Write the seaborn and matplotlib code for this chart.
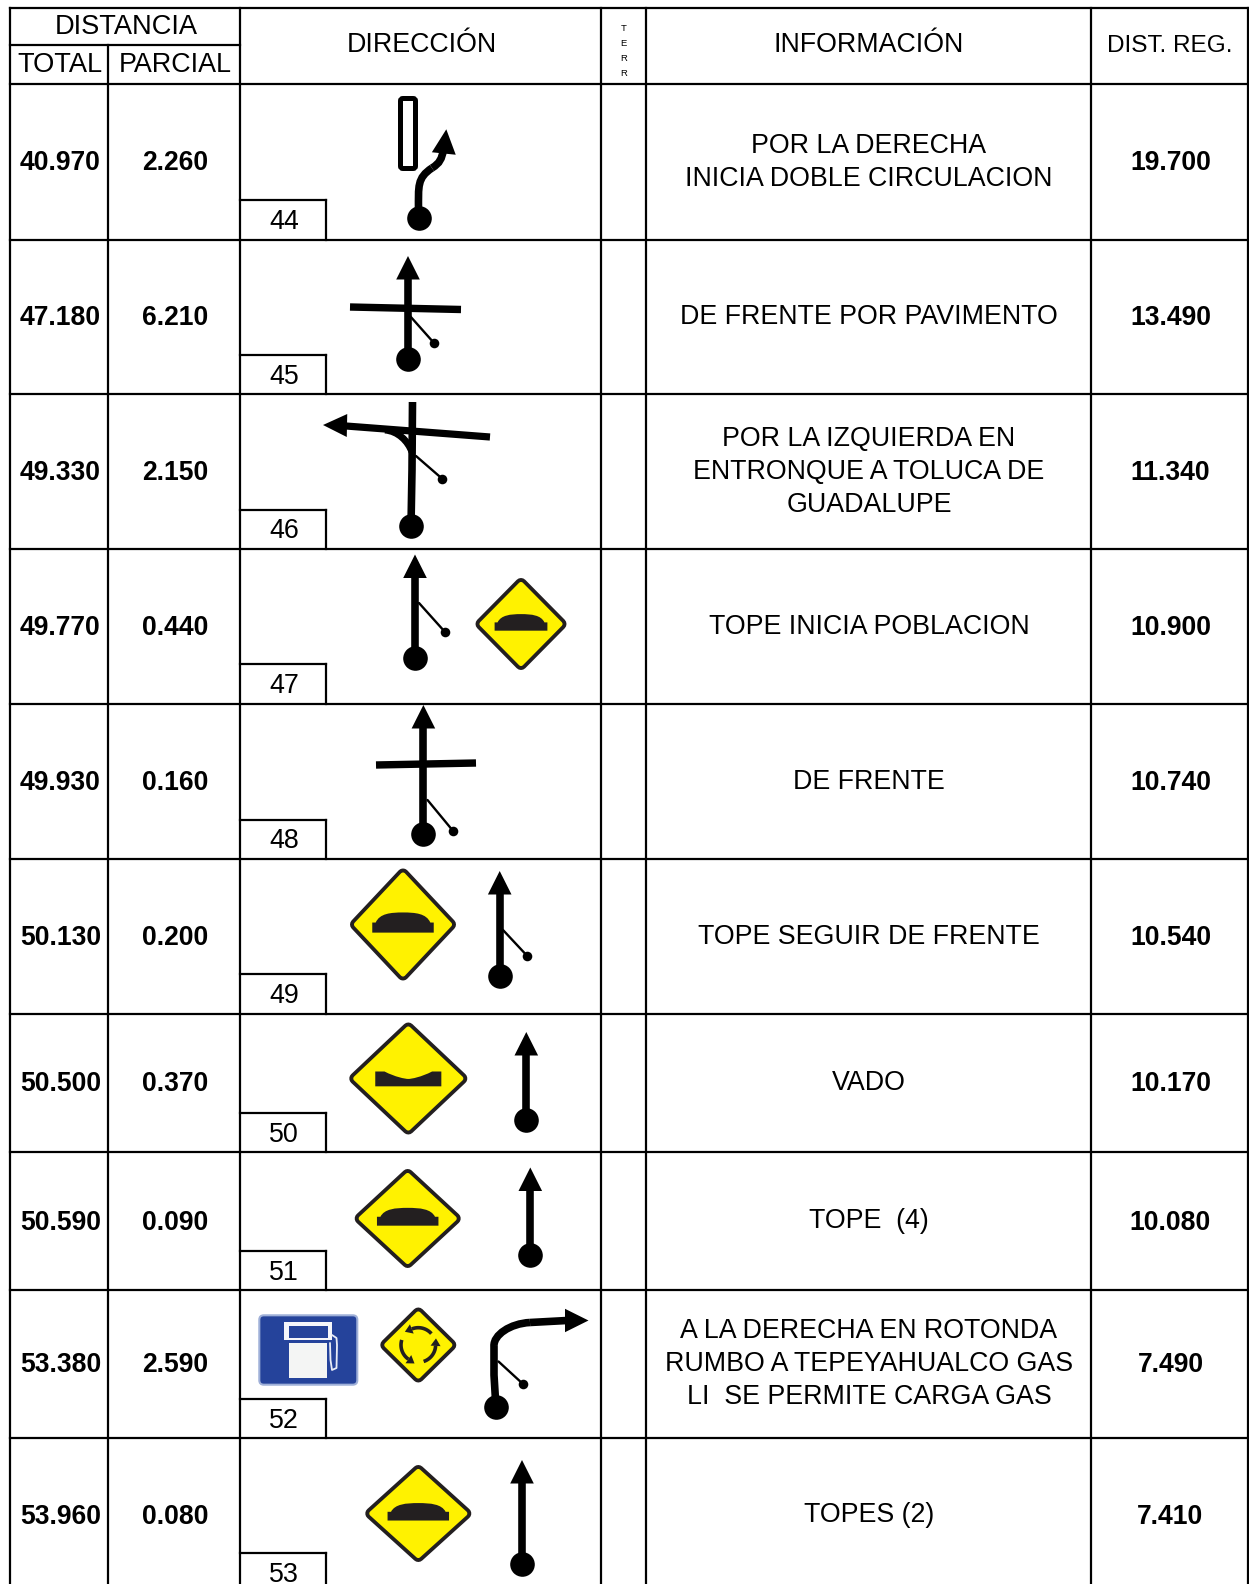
import numpy as np
import matplotlib
matplotlib.use("Agg")
import matplotlib.pyplot as plt
from matplotlib.path import Path
from matplotlib.patches import PathPatch, Polygon, FancyBboxPatch, Rectangle
import seaborn as sns

# ---- table content
total = ["40.970", "47.180", "49.330", "49.770", "49.930", "50.130", "50.500", "50.590", "53.380", "53.960"]
parcial = ["2.260", "6.210", "2.150", "0.440", "0.160", "0.200", "0.370", "0.090", "2.590", "0.080"]
dist_reg = ["19.700", "13.490", "11.340", "10.900", "10.740", "10.540", "10.170", "10.080", "7.490", "7.410"]
box_no = ["44", "45", "46", "47", "48", "49", "50", "51", "52", "53"]
info = [
    ["POR LA DERECHA", "INICIA DOBLE CIRCULACION"],
    ["DE FRENTE POR PAVIMENTO"],
    ["POR LA IZQUIERDA EN", "ENTRONQUE A TOLUCA DE", "GUADALUPE"],
    ["TOPE INICIA POBLACION"],
    ["DE FRENTE"],
    ["TOPE SEGUIR DE FRENTE"],
    ["VADO"],
    ["TOPE  (4)"],
    ["A LA DERECHA EN ROTONDA", "RUMBO A TEPEYAHUALCO GAS", "LI  SE PERMITE CARGA GAS"],
    ["TOPES (2)"],
]

# ---- layout (pixels of the page)
W, H = 1249, 1584
col_x = [9.8, 108.3, 240.3, 601, 646, 1091, 1248]
row_y = [84, 239.5, 394, 549, 703.5, 859, 1013.5, 1152, 1290, 1438, 1592]
LW = 1.6
FS = 19.3
FS_B = 19.1
TXT = "#000000"

sns.set_theme(style="white")
plt.rcParams["font.family"] = ["Liberation Sans", "DejaVu Sans"]
fig = plt.figure(figsize=(W / 100, H / 100), dpi=100)
ax = fig.add_axes([0, 0, 1, 1])
ax.set_xlim(0, W)
ax.set_ylim(H, 0)
ax.axis("off")
PX = 0.72
INK = "#000000"
DARK = "#231f20"
YELLOW = "#fff200"
SHAFT = 7.6


def rule(x0, y0, x1, y1, lw=LW):
    ax.plot([x0, x1], [y0, y1], color=INK, lw=lw, solid_capstyle="projecting", zorder=5)


def stroke(pts, w=SHAFT, curve=False, cap="butt"):
    if curve:
        codes = [Path.MOVETO] + [Path.CURVE4] * (len(pts) - 1)
        ax.add_patch(PathPatch(Path(pts, codes), fc="none", ec=INK, lw=w * PX, capstyle=cap, zorder=3))
    else:
        xs, ys = zip(*pts)
        ax.plot(xs, ys, color=INK, lw=w * PX, solid_capstyle=cap, solid_joinstyle="round", zorder=3)


def head(tip, base, half=11.8):
    t, b = np.array(tip, float), np.array(base, float)
    d = t - b
    n = np.array([-d[1], d[0]]) / np.hypot(*d) * half
    ax.add_patch(Polygon([t, b + n, b - n], closed=True, fc=INK, ec="none", zorder=3))


dots_x, dots_y, small_x, small_y = [], [], [], []


def start(x, y):
    dots_x.append(x)
    dots_y.append(y)


def branch(x0, y0, x1, y1):
    ax.plot([x0, x1], [y0, y1], color=INK, lw=1.7, zorder=3)
    small_x.append(x1)
    small_y.append(y1)


def up_arrow(x, tip, dot):
    head((x, tip), (x, tip + 23.5))
    stroke([(x, tip + 22), (x, dot)])
    start(x, dot)


def diamond(cx, cy, hw, hh):
    a = 6.0
    t = 3.8
    b = 2.5
    sq = 2 ** 0.5
    def poly(rx, ry):
        return [(cx, cy - ry), (cx + rx, cy), (cx, cy + ry), (cx - rx, cy)]
    ax.add_patch(Polygon(poly(hw - a, hh - a), closed=True, fc=DARK, ec=DARK, lw=2 * a * PX, joinstyle="round", zorder=2))
    rx = hw - a + (a - t - b) * sq
    ry = hh - a + (a - t - b) * sq
    ax.add_patch(Polygon(poly(rx, ry), closed=True, fc=YELLOW, ec=YELLOW, lw=2 * b * PX, joinstyle="round", zorder=2.1))


def bump(cx, cy, hw, hh):
    w = 0.58 * hw
    top = cy - 0.215 * hh
    mid = cy - 0.035 * hh
    bot = cy + 0.145 * hh
    sh = 0.065 * hw
    verts = [(cx - w, bot), (cx - w, mid), (cx - w + sh, mid),
             (cx - w * 0.76, top + 1), (cx - w * 0.4, top), (cx, top),
             (cx + w * 0.4, top), (cx + w * 0.76, top + 1), (cx + w - sh, mid),
             (cx + w, mid), (cx + w, bot), (cx - w, bot)]
    codes = [Path.MOVETO, Path.LINETO, Path.LINETO,
             Path.CURVE4, Path.CURVE4, Path.CURVE4,
             Path.CURVE4, Path.CURVE4, Path.CURVE4,
             Path.LINETO, Path.LINETO, Path.CLOSEPOLY]
    ax.add_patch(PathPatch(Path(verts, codes), fc=DARK, ec="none", zorder=2.2))


def dip(cx, cy, hw, hh):
    w = 0.56 * hw
    bot = cy + 0.14 * hh
    edge = cy - 0.125 * hh
    low = cy - 0.01 * hh
    verts = [(cx - w, bot), (cx - w, edge), (cx - w * 0.72, edge),
             (cx - w * 0.4, low - 1), (cx - w * 0.1, low + 1), (cx, low + 1),
             (cx + w * 0.1, low + 1), (cx + w * 0.4, low - 1), (cx + w * 0.72, edge),
             (cx + w, edge), (cx + w, bot), (cx - w, bot)]
    codes = [Path.MOVETO, Path.LINETO, Path.LINETO,
             Path.CURVE4, Path.CURVE4, Path.CURVE4,
             Path.CURVE4, Path.CURVE4, Path.CURVE4,
             Path.LINETO, Path.LINETO, Path.CLOSEPOLY]
    ax.add_patch(PathPatch(Path(verts, codes), fc=DARK, ec="none", zorder=2.2))


# ---- grid
for x in col_x:
    if x == col_x[1]:
        rule(x, 44.5, x, H + 10)
    else:
        rule(x, 7.5, x, H + 10)
rule(col_x[0], 7.5, col_x[-1], 7.5)
rule(col_x[0], 44.5, col_x[2], 44.5)
for y in row_y[:-1]:
    rule(col_x[0], y, col_x[-1], y)

# ---- header
def head_text(x, y, s, fs=FS):
    ax.text(x, y, s, ha="center", va="center", fontsize=fs, color=TXT, zorder=6)


head_text(126, 27, "DISTANCIA", fs=19.6)
head_text(60, 65.5, "TOTAL", fs=19.6)
head_text(175, 65.5, "PARCIAL", fs=19.4)
head_text(421.5, 45.5, "DIRECCIÓN", fs=19.3)
head_text(869, 45.5, "INFORMACIÓN", fs=19.3)
head_text(1170, 45.5, "DIST. REG.", fs=17.6)
for ch, y in zip("TERR", [28.5, 43.5, 58.6, 73.8]):
    head_text(623.5, y, ch, fs=6.8)

# ---- rows
for i in range(len(total)):
    cy = (row_y[i] + row_y[i + 1]) / 2
    for xc, vals in ((60.5, total), (175, parcial), (1170.5, dist_reg)):
        ax.text(xc, cy + 1.5, vals[i], ha="center", va="center", fontsize=FS_B, fontweight="bold", color=TXT, zorder=6)
    n = len(info[i])
    for k, line in enumerate(info[i]):
        ax.text(869, cy + 0.3 + (k - (n - 1) / 2) * 33, line, ha="center", va="center", fontsize=FS, color=TXT, zorder=6)
    by = row_y[i + 1]
    rule(col_x[2], by - 39.5, 326, by - 39.5)
    rule(326, by - 39.5, 326, by)
    ax.text(284, by - 17.5, box_no[i], ha="center", va="center", fontsize=19.4, color=TXT, zorder=6)

# ---- row 44: island + shifted arrow
ax.add_patch(FancyBboxPatch((400.5, 98.5), 15, 70, boxstyle="round,pad=0,rounding_size=2.5",
                            fc="white", ec=INK, lw=5 * PX, zorder=3))
stroke([(418.5, 210), (418.5, 186), (417, 178), (432, 168)], curve=True)
stroke([(432, 168), (440, 163), (441.5, 159), (443.5, 150)], curve=True)
head((446.3, 129.3), (443.8, 153.5), half=12)
start(419, 218.3)

# ---- row 45
up_arrow(408, 256, 359)
stroke([(350, 307), (461, 309.5)], w=7.4)
branch(410, 316, 434, 343)

# ---- row 46
stroke([(412.5, 402), (412, 470), (411, 526)])
stroke([(346, 426), (490, 437)], w=7.2)
stroke([(412, 452), (408, 441), (398, 431), (385, 430)], curve=True, w=7)
head((323, 425), (347, 425.5), half=11.5)
start(411, 526)
branch(416, 456, 442.5, 479)

# ---- row 47
up_arrow(415, 554.5, 658)
branch(419, 603, 445, 632)
diamond(521, 624, 45.5, 46)
bump(521, 624, 45.5, 46)

# ---- row 48
up_arrow(423.4, 705, 833.5)
stroke([(376, 765), (476, 763)], w=7.4)
branch(427.5, 800, 452.7, 830.5)

# ---- row 49
up_arrow(499.7, 871, 975.5)
branch(503, 930, 527.3, 956)
diamond(403, 924.5, 53, 56)
bump(403, 924.5, 53, 56)

# ---- row 50
up_arrow(526.3, 1032, 1120)
diamond(408.3, 1078.5, 59, 56)
dip(408.3, 1078.5, 59, 56)

# ---- row 51
up_arrow(530.3, 1167.5, 1254.5)
diamond(407.7, 1218.5, 53, 49.5)
bump(407.7, 1218.5, 53, 49.5)

# ---- row 52: fuel sign, roundabout sign, right turn
BLUE = "#25439b"
ax.add_patch(FancyBboxPatch((259.3, 1315.3), 98, 69.4, boxstyle="round,pad=0,rounding_size=4.5",
                            fc=BLUE, ec="#9fb0d8", lw=1.5, zorder=2))
ax.add_patch(Rectangle((284.5, 1322), 47.5, 18, fc="#f5f6fa", ec="none", zorder=2.2))
ax.add_patch(Rectangle((288.8, 1326), 38.8, 12, fc=BLUE, ec="none", zorder=2.3))
ax.add_patch(Rectangle((289, 1342.7), 37.7, 35, fc="#f4f5f4", ec="none", zorder=2.2))
ax.plot([332, 336.5, 337, 336.5, 332, 330.5, 330], [1335, 1338, 1345, 1368, 1370, 1360, 1343],
        color="#e9ecf6", lw=1.3, zorder=2.3)
cx, cy = 418.3, 1345
diamond(cx, cy, 38, 37.5)
r = 17.3
for a0, a1 in [(41, 112), (163, 235), (288, 357)]:
    th = np.radians(np.linspace(a0, a1, 24))
    px = cx + r * np.cos(th)
    py = cy - r * np.sin(th)
    ax.plot(px, py, color=DARK, lw=3.6 * PX, solid_capstyle="butt", zorder=2.3)
    t1 = np.radians(a1)
    tan = np.array([-np.sin(t1), -np.cos(t1)])
    nor = np.array([np.cos(t1), -np.sin(t1)])
    base = np.array([px[-1], py[-1]])
    ax.add_patch(Polygon([base + tan * 7.5, base + nor * 5, base - nor * 5], closed=True, fc=DARK, ec="none", zorder=2.3))
stroke([(495.5, 1400), (494, 1375), (494, 1346)])
stroke([(494, 1346), (493.5, 1335), (510, 1323.5), (530, 1322.5)], curve=True)
stroke([(530, 1322.5), (567, 1320.5)])
head((588.5, 1320.5), (565, 1320.5), half=11.7)
start(496, 1406.5)
branch(498.5, 1361.5, 523, 1384)

# ---- row 53
up_arrow(522, 1460, 1564)
diamond(418.3, 1513.5, 53, 48.5)
bump(418.3, 1513.5, 53, 48.5)

# ---- route dots drawn through seaborn
sns.scatterplot(x=dots_x, y=dots_y, s=(24.6 * PX) ** 2, color=INK, linewidth=0, ax=ax, zorder=4, legend=False)
sns.scatterplot(x=small_x, y=small_y, s=(9.6 * PX) ** 2, color=INK, linewidth=0, ax=ax, zorder=4, legend=False)
ax.set_xlim(0, W)
ax.set_ylim(H, 0)
ax.axis("off")
fig.savefig("out.png", dpi=100, facecolor="white")
